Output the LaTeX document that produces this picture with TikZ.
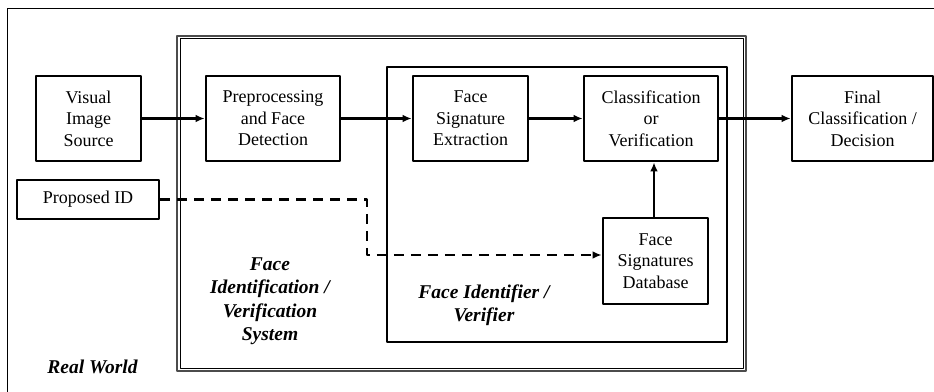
\documentclass[tikz,border=0pt]{standalone}
\usepackage{fontspec}
\setmainfont{Liberation Serif}
\usetikzlibrary{arrows.meta}
\begin{document}
\begin{tikzpicture}[>={Latex[length=9bp,width=7.5bp]},line join=bevel,
  blockbox/.style={draw,line width=2.6bp,align=center,inner sep=0bp,font=\fontsize{18bp}{21.5bp}\selectfont},
  grouplabel/.style={align=center,font=\fontsize{19.5bp}{23.5bp}\selectfont\bfseries\itshape},
  flow/.style={black,line width=2.4bp,->},
  idflow/.style={flow,dash pattern=on 10bp off 7bp}]
%%
\useasboundingbox (0bp,0bp) rectangle (934bp,392bp);
\draw [line width=1bp] (7bp,0bp) |- (934bp,383bp);
% system and identifier frames
\draw [gray!60!black,line width=2bp] (177bp,356bp) rectangle (746bp,20.5bp);
\draw [line width=1bp] (180.5bp,353bp) rectangle (743.5bp,23.5bp);
\draw [line width=2.8bp] (387bp,325bp) rectangle (727bp,50bp);
%%
\node (node_vis) at (88.5bp,273.5bp) [blockbox,minimum width=105bp,minimum height=85bp] {Visual\\Image\\Source};
  \node (node_pre) at (273bp,273.5bp) [blockbox,minimum width=134bp,minimum height=85bp] {Preprocessing\\and Face\\Detection};
  \node (node_fse) at (470.5bp,273.5bp) [blockbox,minimum width=115bp,minimum height=85bp] {Face\\Signature\\Extraction};
  \node (node_cov) at (651bp,273.5bp) [blockbox,minimum width=134bp,minimum height=85bp] {Classification\\or\\Verification};
  \node (node_fin) at (862.5bp,273.5bp) [blockbox,minimum width=141bp,minimum height=85bp] {Final\\Classification /\\Decision};
  \node (node_pid) at (88bp,192.5bp) [blockbox,minimum width=142bp,minimum height=39bp] {Proposed ID};
  \node (node_fsd) at (655.5bp,131bp) [blockbox,minimum width=105bp,minimum height=86bp] {Face\\Signatures\\Database};
%
\node (lbl_sys) at (270bp,91bp) [grouplabel] {Face\\Identification /\\Verification\\System};
  \node (lbl_fid) at (484bp,87bp) [grouplabel] {Face Identifier /\\Verifier};
  \node (lbl_rw) at (92.5bp,25bp) [grouplabel] {Real World};
%
\coordinate (bend_id) at (367bp,137bp);
  \draw [flow] (node_vis) -- (node_pre);
  \draw [flow] (node_pre) -- (node_fse);
  \draw [flow] (node_fse) -- (node_cov);
  \draw [flow] (node_cov) -- (node_fin);
  \draw [flow] (node_fsd.north -| 654bp,0) -- (node_cov.south -| 654bp,0);
  \draw [idflow] (node_pid.east) -| (bend_id) -- (bend_id -| node_fsd.west);
%
\end{tikzpicture}
\end{document}
